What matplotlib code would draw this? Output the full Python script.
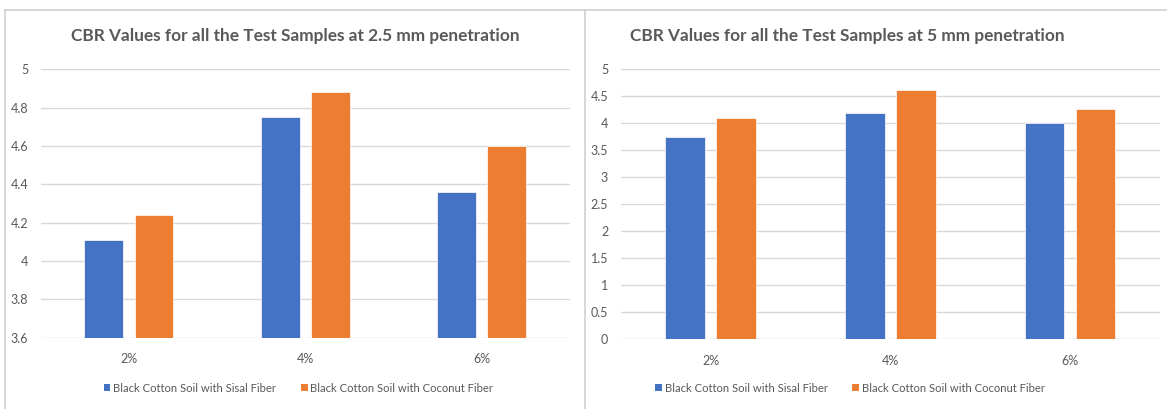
import matplotlib
matplotlib.use("Agg")
import matplotlib.pyplot as plt
from matplotlib.patches import Patch
from matplotlib.lines import Line2D
import numpy as np

categories = ["2%", "4%", "6%"]
series_names = ["Black Cotton Soil with Sisal Fiber", "Black Cotton Soil with Coconut Fiber"]
sisal_25 = [4.11, 4.75, 4.36]
coconut_25 = [4.24, 4.88, 4.60]
sisal_5 = [3.75, 4.19, 4.01]
coconut_5 = [4.10, 4.62, 4.27]
yticks_25 = [3.6, 3.8, 4.0, 4.2, 4.4, 4.6, 4.8, 5.0]
yticklabels_25 = ["3.6", "3.8", "4", "4.2", "4.4", "4.6", "4.8", "5"]
yticks_5 = [0, 0.5, 1, 1.5, 2, 2.5, 3, 3.5, 4, 4.5, 5]
yticklabels_5 = ["0", "0.5", "1", "1.5", "2", "2.5", "3", "3.5", "4", "4.5", "5"]
titles = ["CBR Values for all the Test Samples at 2.5 mm penetration",
          "CBR Values for all the Test Samples at 5 mm penetration"]

BLUE = "#4472C4"
ORANGE = "#ED7D31"
GRID = "#D9D9D9"
TXT = "#595959"
FONT = "Lato"

W, H = 1167, 409
fig = plt.figure(figsize=(W / 100, H / 100), dpi=100)
fig.patch.set_facecolor("white")

def fx(px):
    return px / W

def fy(py):
    return (H - py) / H

# panel borders
for seg in [((5, 5), (10, 409)), ((5, 1167), (10, 10)), ((585, 585), (10, 409))]:
    xs, ys = seg
    fig.add_artist(Line2D([fx(xs[0]), fx(xs[1])], [fy(ys[0]), fy(ys[1])],
                          color="#D0D0D0", lw=1.2, transform=fig.transFigure))

def draw(ax_rect, s1, s2, yticks, ylabels, ylim, title, title_x, legend_x):
    ax = fig.add_axes(ax_rect)
    x = np.arange(len(categories))
    bw = 0.22
    off = 0.142
    ax.bar(x - off, s1, bw, color=BLUE, edgecolor="white", linewidth=0.5, zorder=3)
    ax.bar(x + off, s2, bw, color=ORANGE, edgecolor="white", linewidth=0.5, zorder=3)
    ax.set_xlim(-0.5, len(categories) - 0.5)
    ax.set_ylim(*ylim)
    ax.set_yticks(yticks)
    ax.set_yticklabels(ylabels)
    ax.set_xticks(x)
    ax.set_xticklabels(categories)
    ax.grid(axis="y", color=GRID, lw=1.0, zorder=0)
    ax.set_axisbelow(True)
    for sp in ax.spines.values():
        sp.set_visible(False)
    ax.tick_params(axis="both", length=0, colors=TXT, labelsize=9)
    ax.tick_params(axis="y", pad=9)
    ax.tick_params(axis="x", pad=11)
    for lab in ax.get_xticklabels() + ax.get_yticklabels():
        lab.set_fontfamily(FONT)
    fig.text(title_x, fy(36), title, ha="center", va="center", color=TXT,
             fontsize=12.4, fontweight="bold", fontfamily=FONT)
    handles = [Patch(facecolor=BLUE), Patch(facecolor=ORANGE)]
    fig.legend(handles, series_names, loc="center", bbox_to_anchor=(legend_x, fy(388)),
               ncol=2, frameon=False, handlelength=0.6, handleheight=0.6,
               handletextpad=0.25, columnspacing=2.2,
               prop={"family": FONT, "size": 8.1}, labelcolor=TXT)
    return ax

draw([fx(40.7), fy(337.7), fx(570) - fx(40.7), fy(69.3) - fy(337.7)],
     sisal_25, coconut_25, yticks_25, yticklabels_25, (3.6, 5.0),
     titles[0], fx(295), fx(298.5))
draw([fx(620.7), fy(339.3), fx(1160) - fx(620.7), fy(69.3) - fy(339.3)],
     sisal_5, coconut_5, yticks_5, yticklabels_5, (0, 5.0),
     titles[1], fx(847.5), fx(850))

fig.savefig("out.png", dpi=100, facecolor="white")
